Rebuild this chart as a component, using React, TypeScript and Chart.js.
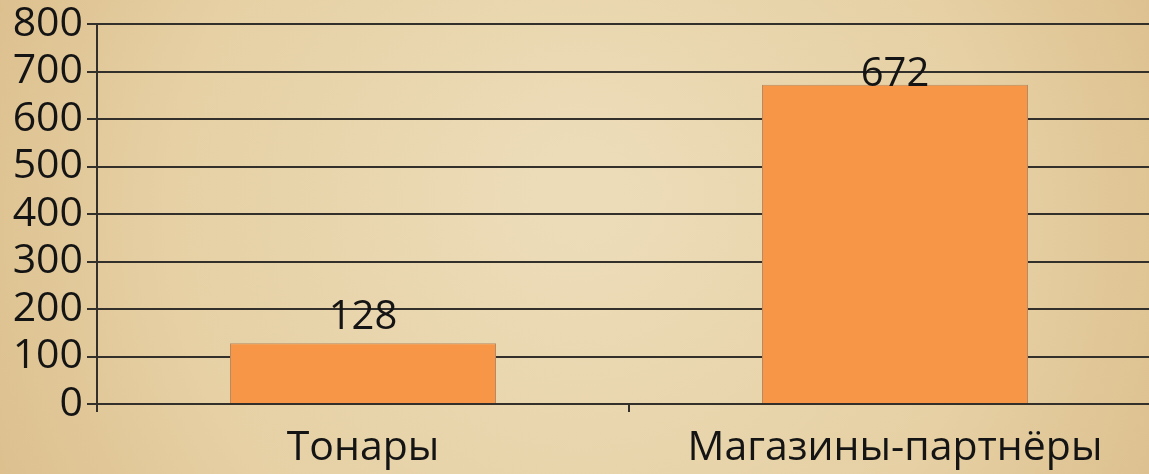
import React, { useEffect, useRef } from "react";
import { Chart, registerables } from "chart.js";

Chart.register(...registerables);

const categories = ["Тонары", "Магазины-партнёры"];
const values = [128, 672];
const yTicks = [0, 100, 200, 300, 400, 500, 600, 700, 800];

const FONT = "'Open Sans', 'DejaVu Sans', sans-serif";

const bgPlugin = {
  id: "parchment",
  beforeDraw(chart: any) {
    const { ctx, width, height } = chart;
    ctx.save();
    const g = ctx.createRadialGradient(width * 0.5, height * 0.4, 40, width * 0.5, height * 0.5, width * 0.62);
    g.addColorStop(0, "#ecdcb8");
    g.addColorStop(0.55, "#e6d0a4");
    g.addColorStop(1, "#d9b985");
    ctx.fillStyle = g;
    ctx.fillRect(0, 0, width, height);
    ctx.restore();
  },
};

const labelPlugin = {
  id: "valueLabels",
  afterDatasetsDraw(chart: any) {
    const { ctx, chartArea } = chart;
    const meta = chart.getDatasetMeta(0);
    ctx.save();
    ctx.fillStyle = "#141414";
    ctx.font = `40px ${FONT}`;
    ctx.textAlign = "center";
    ctx.textBaseline = "middle";
    meta.data.forEach((bar: any, i: number) => {
      const y = Math.max(bar.y - 26, chartArea.top + 51);
      ctx.fillText(String(values[i]), bar.x, y);
    });
    ctx.restore();
  },
};

export default function App() {
  const ref = useRef<HTMLCanvasElement>(null);
  useEffect(() => {
    if (!ref.current) return;
    const chart = new Chart(ref.current, {
      type: "bar",
      data: {
        labels: categories,
        datasets: [
          {
            data: values,
            backgroundColor: "#f79646",
            borderColor: "#b88a62",
            borderWidth: 1,
            barPercentage: 0.5,
            categoryPercentage: 1,
          },
        ],
      },
      options: {
        animation: false,
        responsive: false,
        maintainAspectRatio: false,
        layout: { padding: { top: 24, left: 0, right: 0, bottom: 0 } },
        plugins: { legend: { display: false }, tooltip: { enabled: false } },
        scales: {
          x: {
            grid: {
              offset: true,
              drawOnChartArea: false,
              drawTicks: true,
              tickLength: 8,
              color: "#332f2b",
              lineWidth: 2,
            },
            border: { display: true, color: "#332f2b", width: 2 },
            ticks: {
              color: "#141414",
              font: { family: FONT, size: 41 },
              padding: 12,
              maxRotation: 0,
            },
            afterFit(scale: any) {
              scale.height = 70;
              scale.paddingLeft = 0;
              scale.paddingRight = 0;
            },
          },
          y: {
            min: 0,
            max: 800,
            afterBuildTicks(scale: any) {
              scale.ticks = yTicks.map((v) => ({ value: v }));
            },
            grid: {
              color: "#332f2b",
              lineWidth: 2,
              tickLength: 10,
            },
            border: { display: true, color: "#332f2b", width: 2 },
            ticks: {
              color: "#141414",
              font: { family: FONT, size: 41 },
              padding: 4,
              autoSkip: false,
            },
            afterFit(scale: any) {
              scale.width = 97;
              scale.paddingTop = 0;
              scale.paddingBottom = 0;
            },
          },
        },
      },
      plugins: [bgPlugin, labelPlugin],
    });
    return () => chart.destroy();
  }, []);
  return (
    <div style={{ position: "fixed", left: 0, top: 0, width: 1149, height: 474, overflow: "hidden" }}>
      <canvas ref={ref} width={1161} height={474} style={{ display: "block" }} />
    </div>
  );
}
